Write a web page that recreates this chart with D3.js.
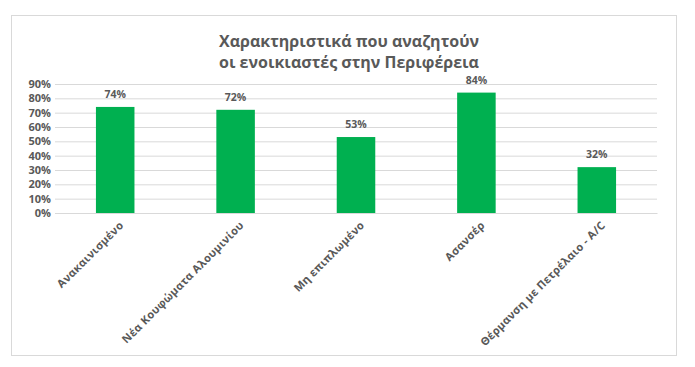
<!DOCTYPE html>
<html>
<head>
<meta charset="utf-8">
<script src="https://cdn.jsdelivr.net/npm/d3@7"></script>
<style>
body { margin: 0; background: #fff; }
text { font-family: "Open Sans", "Noto Sans", sans-serif; fill: #595959; }
</style>
</head>
<body>
<div id="chart"></div>
<script>
// chart data
var titleLines = ["Χαρακτηριστικά που αναζητούν", "οι ενοικιαστές στην Περιφέρεια"];
var categories = ["Ανακαινισμένο", "Νέα Κουφώματα Αλουμινίου", "Μη επιπλωμένο", "Ασανσέρ", "Θέρμανση με Πετρέλαιο - A/C"];
var values = [0.74, 0.72, 0.53, 0.84, 0.32];
var yTicks = [0, 0.1, 0.2, 0.3, 0.4, 0.5, 0.6, 0.7, 0.8, 0.9];

var W = 695, H = 367;
var plot = {left: 55, right: 657, top: 84, bottom: 213};

var svg = d3.select("#chart").append("svg")
	.attr("width", W)
	.attr("height", H);

// outer frame
svg.append("rect")
	.attr("x", 11.5).attr("y", 15.5)
	.attr("width", 665).attr("height", 340)
	.attr("fill", "#fff")
	.attr("stroke", "#d9d9d9");

var x = d3.scaleBand()
	.domain(categories)
	.range([plot.left, plot.right])
	.paddingInner(0.68)
	.paddingOuter(0.34);

var y = d3.scaleLinear()
	.domain([0, 0.9])
	.range([plot.bottom, plot.top]);

// gridlines + y labels
var yAxis = d3.axisLeft(y)
	.tickValues(yTicks)
	.tickSize(-(plot.right - plot.left))
	.tickPadding(6)
	.tickFormat(d3.format(".0%"));

var gy = svg.append("g")
	.attr("transform", "translate(" + plot.left + ",0)")
	.call(yAxis);
gy.select(".domain").remove();
gy.selectAll("line").attr("stroke", "#d9d9d9");
gy.selectAll("text")
	.attr("x", -4)
	.style("font-size", "11px")
	.style("font-weight", "bold")
	.style("fill", "#595959");

// bars
svg.selectAll(".bar").data(values).enter()
	.append("rect")
	.attr("class", "bar")
	.attr("x", function(d, i) { return x(categories[i]); })
	.attr("y", function(d) { return y(d); })
	.attr("width", x.bandwidth())
	.attr("height", function(d) { return y(0) - y(d); })
	.attr("fill", "#00b050");

// data labels
svg.selectAll(".lbl").data(values).enter()
	.append("text")
	.attr("class", "lbl")
	.attr("x", function(d, i) { return x(categories[i]) + x.bandwidth() / 2; })
	.attr("y", function(d) { return y(d) - 9; })
	.attr("text-anchor", "middle")
	.style("font-size", "10.5px")
	.style("font-weight", "bold")
	.text(function(d) { return Math.round(d * 100) + "%"; });

// category labels, rotated
var gx = svg.append("g")
	.attr("transform", "translate(0," + plot.bottom + ")")
	.call(d3.axisBottom(x).tickSize(0).tickPadding(0));
gx.select(".domain").attr("stroke", "#d9d9d9");
gx.selectAll("text")
	.attr("text-anchor", "end")
	.attr("dy", 0)
	.attr("y", 0)
	.attr("transform", "translate(9,13) rotate(-45)")
	.style("font-size", "11px")
	.style("letter-spacing", "0.3px")
	.style("font-weight", "bold");

// title
svg.append("text")
	.attr("x", 349)
	.attr("y", 47)
	.attr("text-anchor", "middle")
	.style("font-size", "16px")
	.style("font-weight", "bold")
	.selectAll("tspan").data(titleLines).enter()
	.append("tspan")
	.attr("x", 349)
	.attr("dy", function(d, i) { return i ? 21 : 0; })
	.text(function(d) { return d; });
</script>
</body>
</html>
